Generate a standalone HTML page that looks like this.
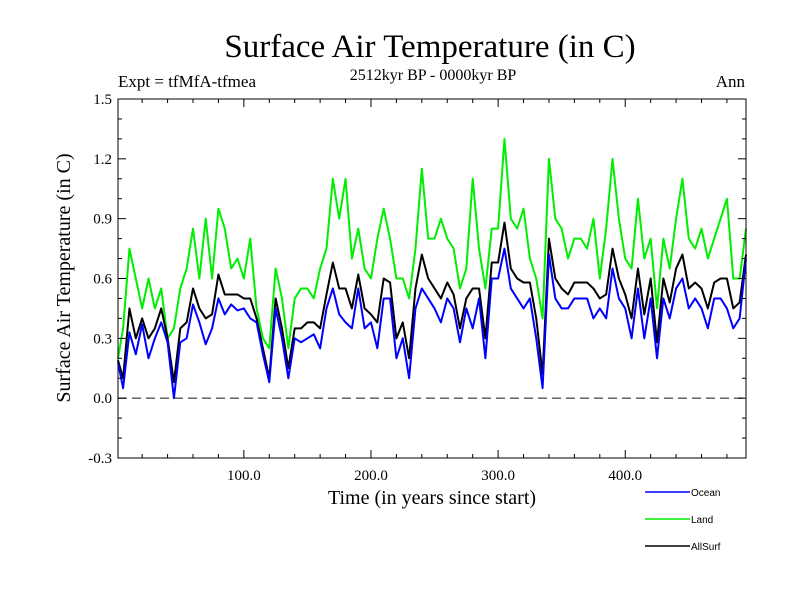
<!DOCTYPE html>
<html><head><meta charset="utf-8"><style>
body{margin:0;background:#fff}
svg text{font-family:"Liberation Serif",serif;fill:#000}
</style></head><body>
<svg id="chart" width="800" height="600" xmlns="http://www.w3.org/2000/svg">
<text x="430" y="57" font-size="33" text-anchor="middle">Surface Air Temperature (in C)</text>
<text x="433" y="80" font-size="16" text-anchor="middle">2512kyr BP - 0000kyr BP</text>
<text x="118" y="87" font-size="17">Expt = tfMfA-tfmea</text>
<text x="745" y="87" font-size="17" text-anchor="end">Ann</text>
<text transform="translate(70,278) rotate(-90)" font-size="20" text-anchor="middle">Surface Air Temperature (in C)</text>
<text x="432" y="504" font-size="20" text-anchor="middle">Time (in years since start)</text>
<g id="plot"></g>
<g id="legend" font-family="Liberation Sans" font-size="10"></g>
</svg>
<script>
const years=[];for(let i=0;i<100;i++)years.push(i*5);
const ocean=[0.18,0.05,0.33,0.22,0.37,0.2,0.3,0.38,0.28,0.0,0.28,0.3,0.47,0.38,0.27,0.35,0.5,0.42,0.47,0.44,0.45,0.4,0.38,0.22,0.08,
0.45,0.3,0.1,0.3,0.28,0.3,0.32,0.25,0.45,0.55,0.42,0.38,0.35,0.55,0.35,0.38,0.25,0.5,0.5,0.2,0.3,0.1,0.45,0.55,0.5,
0.45,0.38,0.5,0.45,0.28,0.45,0.35,0.5,0.2,0.6,0.6,0.75,0.55,0.5,0.45,0.5,0.3,0.05,0.72,0.5,0.45,0.45,0.5,0.5,
0.5,0.4,0.45,0.4,0.65,0.5,0.45,0.3,0.55,0.3,0.5,0.2,0.5,0.4,0.55,0.6,0.45,0.5,0.45,0.35,0.5,0.5,0.45,0.35,0.4,0.7];
const land=[0.2,0.35,0.75,0.6,0.45,0.6,0.45,0.55,0.3,0.35,0.55,0.65,0.85,0.6,0.9,0.6,0.95,0.85,0.65,0.7,0.6,0.8,0.45,0.3,0.25,
0.65,0.5,0.25,0.5,0.55,0.55,0.5,0.65,0.75,1.1,0.9,1.1,0.7,0.85,0.65,0.6,0.8,0.95,0.8,0.6,0.6,0.5,0.75,1.15,0.8,
0.8,0.9,0.8,0.75,0.55,0.65,1.1,0.75,0.55,0.85,0.85,1.3,0.9,0.85,0.95,0.7,0.6,0.4,1.2,0.9,0.85,0.7,0.8,0.8,
0.75,0.9,0.6,0.85,1.2,0.9,0.7,0.65,1.0,0.7,0.8,0.45,0.8,0.65,0.9,1.1,0.8,0.75,0.85,0.7,0.8,0.9,1.0,0.6,0.6,0.85];
const allsurf=[0.19,0.1,0.45,0.3,0.4,0.3,0.35,0.45,0.3,0.08,0.35,0.38,0.55,0.45,0.4,0.42,0.62,0.52,0.52,0.52,0.5,0.5,0.4,0.25,0.1,
0.5,0.35,0.15,0.35,0.35,0.38,0.38,0.35,0.52,0.68,0.55,0.55,0.45,0.62,0.45,0.42,0.38,0.6,0.58,0.3,0.38,0.2,0.55,0.72,0.6,
0.55,0.5,0.58,0.52,0.35,0.5,0.55,0.55,0.3,0.68,0.68,0.88,0.65,0.6,0.58,0.58,0.4,0.12,0.8,0.6,0.55,0.52,0.58,0.58,
0.58,0.55,0.5,0.52,0.75,0.6,0.52,0.4,0.65,0.42,0.6,0.28,0.6,0.48,0.65,0.72,0.55,0.58,0.55,0.45,0.58,0.6,0.6,0.45,0.48,0.72];
const yTicks=[-0.3,0.0,0.3,0.6,0.9,1.2,1.5];
const xTicks=[100,200,300,400];
const L=118,R=746,T=99,B=458;
const xs=v=>L+(v-1)*(R-L)/(495-1);
const ys=v=>B-(v+0.3)*(B-T)/1.8;
const NS="http://www.w3.org/2000/svg";
const plot=document.getElementById('plot');
function mk(tag,attrs,parent){const e=document.createElementNS(NS,tag);for(const k in attrs)e.setAttribute(k,attrs[k]);(parent||plot).appendChild(e);return e;}
let e=mk('line',{x1:L,x2:R,y1:ys(0),y2:ys(0),stroke:'#555','stroke-width':1.3,'stroke-dasharray':'9,5'});


function series(vals,color,name){const pts=years.map((y,i)=>xs(Math.max(y,1))+','+ys(vals[i])).join(' ');
const p=mk('polyline',{points:pts,fill:'none',stroke:color,'stroke-width':2,'stroke-linejoin':'round'});

}
series(land,'#00ee00','land-series');
series(allsurf,'#000000','allsurf-series');
series(ocean,'#0000ff','ocean-series');
e=mk('rect',{x:L,y:T,width:R-L,height:B-T,fill:'none',stroke:'#000','stroke-width':1});


for(let v=-3;v<=15;v++){const y=ys(v/10),maj=(v%3===0);const len=maj?8:4;
mk('line',{x1:L,x2:L+len,y1:y,y2:y,stroke:'#000'});mk('line',{x1:R,x2:R-len,y1:y,y2:y,stroke:'#000'});}
yTicks.forEach(v=>{const t=mk('text',{x:L-6,y:ys(v)+5,'font-size':15,'text-anchor':'end'});t.textContent=v.toFixed(1);

});
for(let v=20;v<=480;v+=20){const x=xs(v),maj=v%100===0,len=maj?8:4;
mk('line',{x1:x,x2:x,y1:B,y2:B-len,stroke:'#000'});mk('line',{x1:x,x2:x,y1:T,y2:T+len,stroke:'#000'});}
xTicks.forEach(v=>{const t=mk('text',{x:xs(v),y:B+22,'font-size':15,'text-anchor':'middle'});t.textContent=v.toFixed(1);

});
const lg=document.getElementById('legend');
[['Ocean','#0000ff',492],['Land','#00ee00',519],['AllSurf','#000',546]].forEach(([n,c,y])=>{
const l=mk('line',{x1:645,x2:690,y1:y,y2:y,stroke:c,'stroke-width':1.5},lg);


const t=mk('text',{x:691,y:y+4,'font-size':10,style:'font-family:"Liberation Sans",sans-serif'},lg);t.textContent=n;

});
</script>
</body></html>
